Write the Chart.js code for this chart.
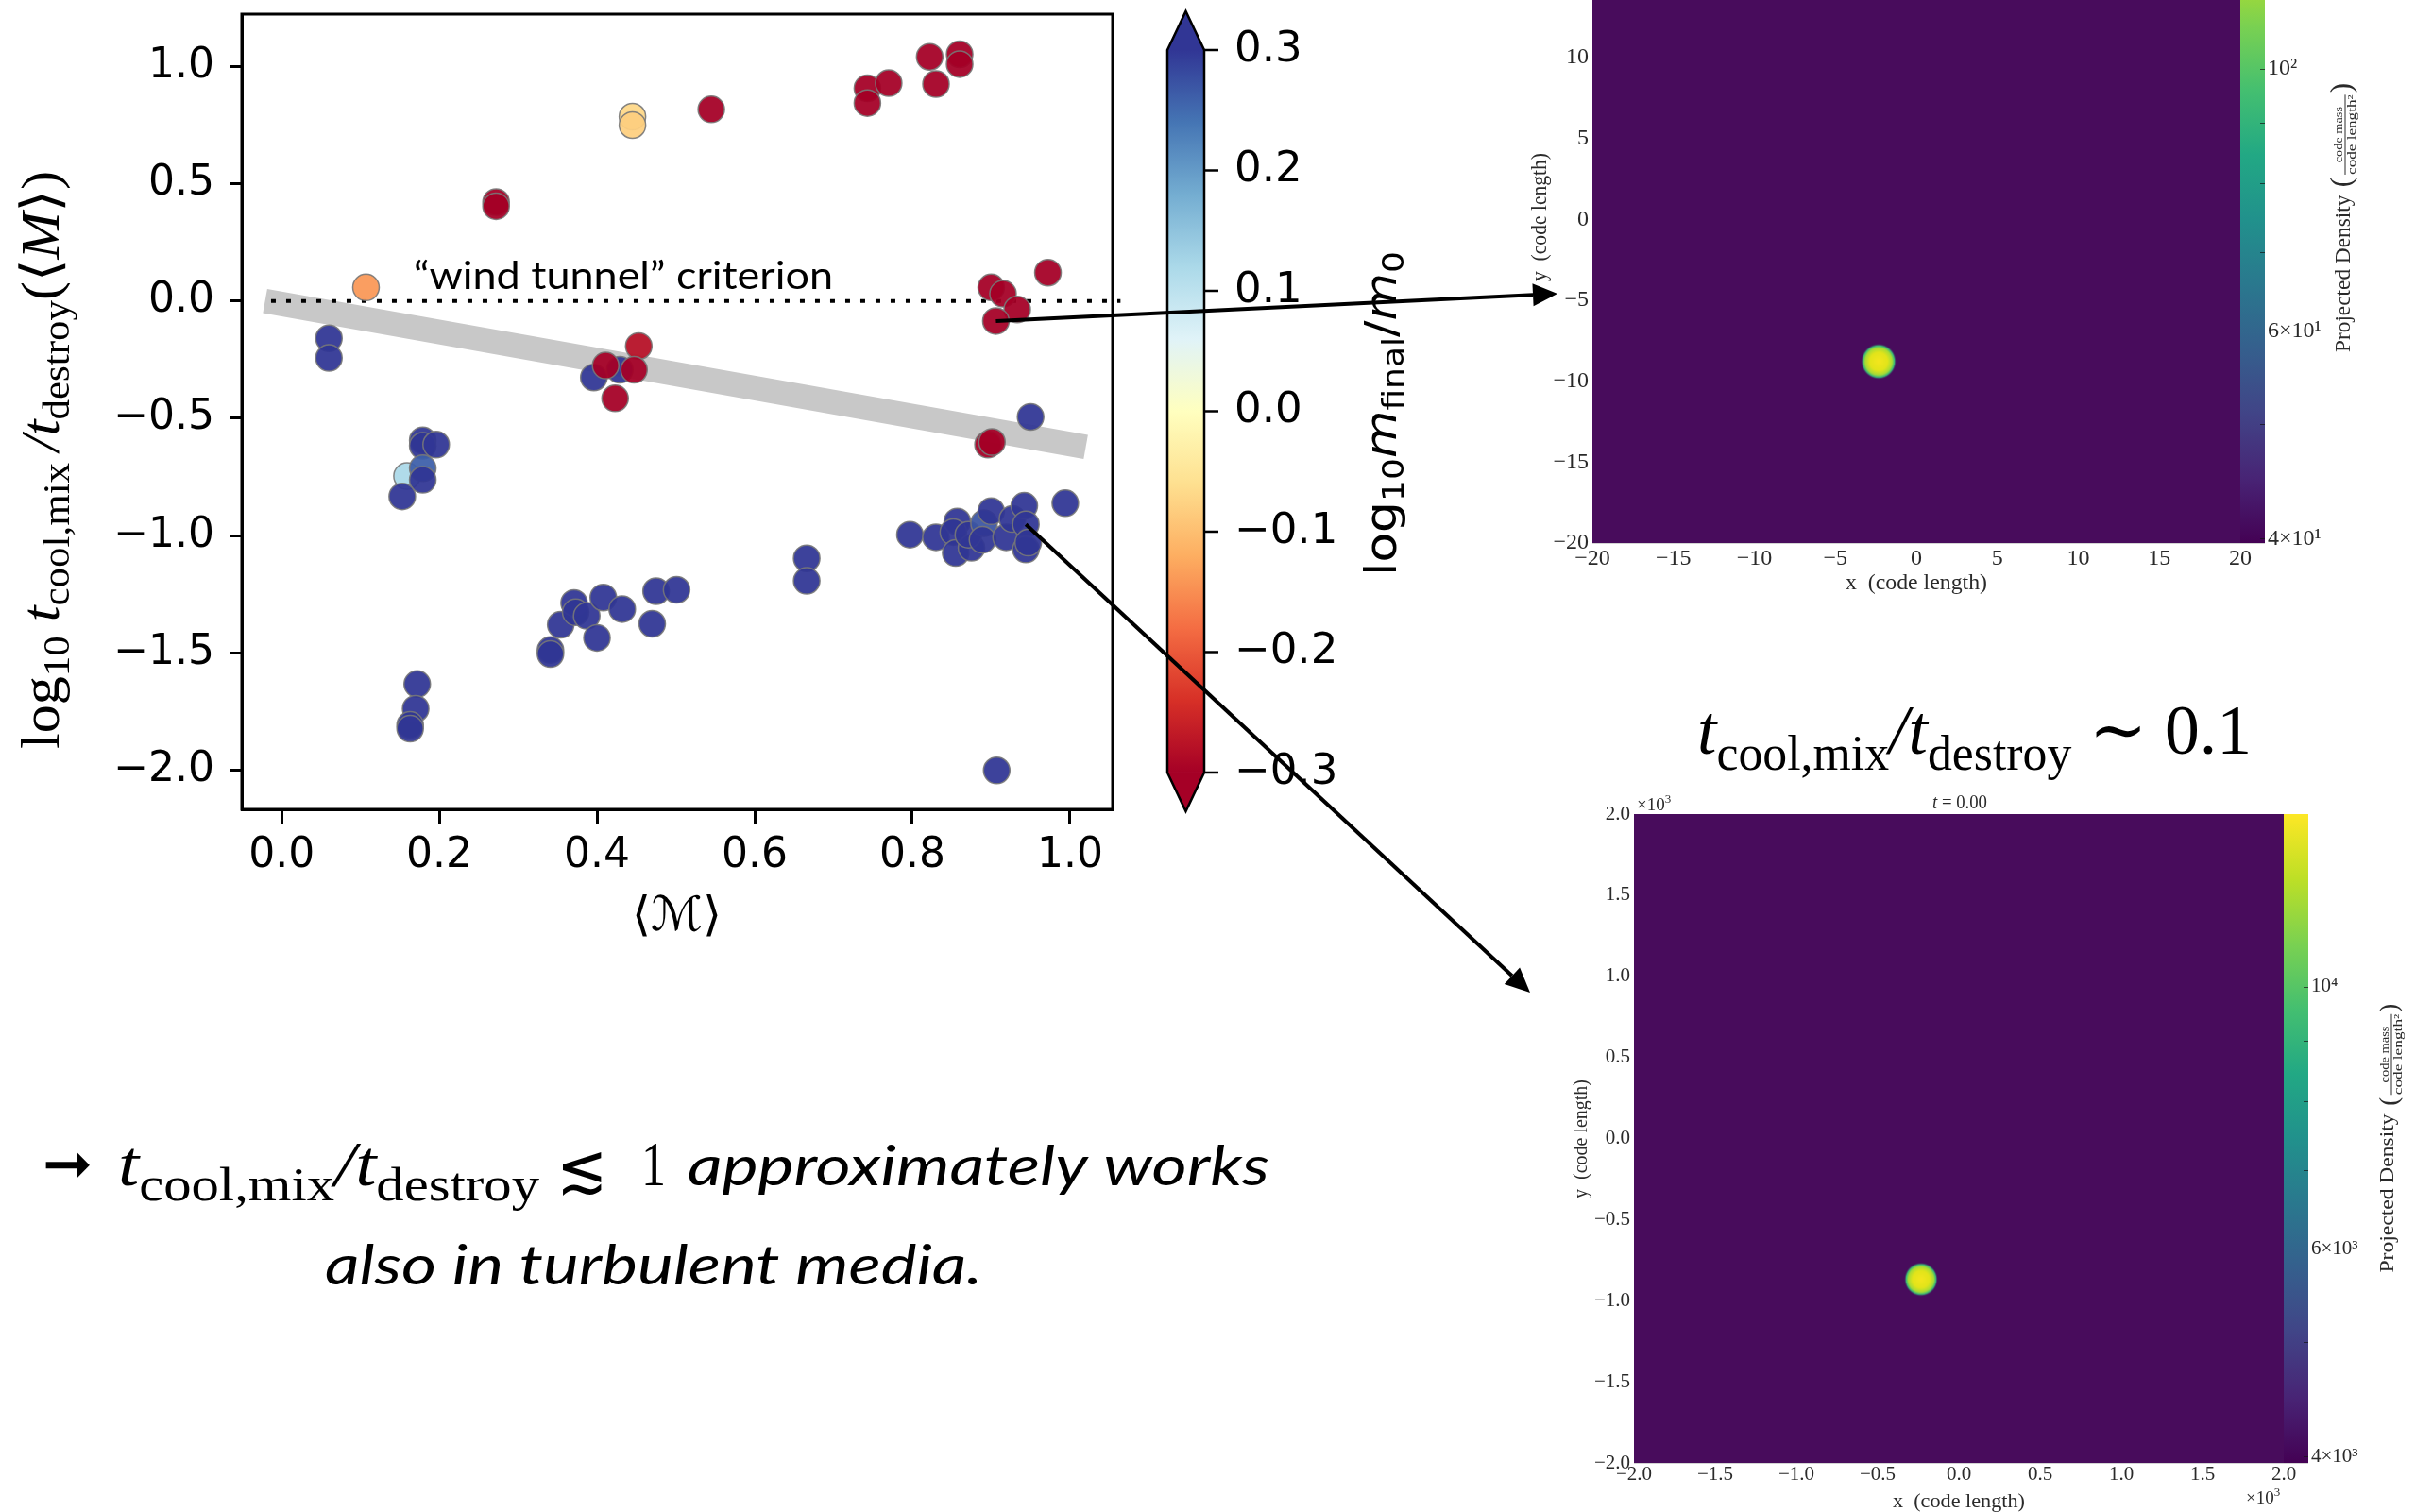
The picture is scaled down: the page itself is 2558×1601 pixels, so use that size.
<!DOCTYPE html>
<html>
<head>
<meta charset="utf-8">
<title>wind tunnel criterion</title>
<script src="https://cdn.jsdelivr.net/npm/chart.js@4.4.1/dist/chart.umd.min.js"></script>
<style>
  html, body { margin: 0; padding: 0; background: #fff; overflow: hidden; }
  #page { position: relative; width: 2558px; height: 1601px; }
  #page canvas { position: absolute; }
</style>
</head>
<body>
<div id="page">
  <canvas id="topImg" width="998" height="660" style="left:1560px;top:0px"></canvas>
  <canvas id="botImg" width="958" height="781" style="left:1600px;top:820px"></canvas>
  <canvas id="main" width="2558" height="1601" style="left:0px;top:0px;z-index:2"></canvas>
</div>
<script>
// scatter: <M>, log10 tcool,mix/tdestroy, colour = log10 mfinal/m0
const mach = [
  0.429, 0.396, 0.060, 0.060, 0.179, 0.179, 0.196, 0.159, 0.179, 0.179, 0.153, 0.950,
  0.994, 0.797, 0.830, 0.857, 0.852, 0.855, 0.875, 0.871, 0.891, 0.889, 0.900, 0.919,
  0.927, 0.942, 0.944, 0.944, 0.947, 0.907, 0.666, 0.666, 0.341, 0.341, 0.354, 0.371,
  0.373, 0.387, 0.408, 0.400, 0.432, 0.470, 0.475, 0.501, 0.172, 0.170, 0.163, 0.163,
  0.107, 0.445, 0.445, 0.272, 0.272, 0.545, 0.743, 0.743, 0.770, 0.822, 0.830, 0.860,
  0.860, 0.900, 0.915, 0.933, 0.906, 0.972, 0.896, 0.901, 0.453, 0.411, 0.447, 0.423
];
const logRatio = [
  -0.293, -0.326, -0.159, -0.243, -0.594, -0.617, -0.612, -0.746, -0.713, -0.762, -0.833, -0.494,
  -0.862, -0.996, -1.007, -0.940, -0.985, -1.074, -1.052, -0.996, -0.947, -1.018, -0.896, -1.007,
  -0.929, -0.873, -0.952, -1.059, -1.030, -2.001, -1.097, -1.193, -1.488, -1.505, -1.380, -1.287,
  -1.327, -1.342, -1.264, -1.436, -1.313, -1.376, -1.237, -1.231, -1.633, -1.738, -1.807, -1.823,
  0.058, 0.786, 0.750, 0.422, 0.404, 0.817, 0.907, 0.844, 0.929, 1.041, 0.925, 1.052,
  1.010, 0.058, 0.031, -0.036, -0.085, 0.121, -0.612, -0.601, -0.192, -0.275, -0.293, -0.415
];
const logMass = [
  0.35, 0.35, 0.35, 0.35, 0.35, 0.35, 0.35, 0.12, 0.26, 0.35, 0.35, 0.35,
  0.35, 0.35, 0.35, 0.35, 0.35, 0.35, 0.35, 0.35, 0.27, 0.35, 0.35, 0.35,
  0.35, 0.35, 0.35, 0.35, 0.35, 0.35, 0.35, 0.35, 0.35, 0.35, 0.35, 0.35,
  0.35, 0.35, 0.35, 0.35, 0.35, 0.35, 0.35, 0.35, 0.35, 0.35, 0.35, 0.35,
  -0.14, -0.07, -0.08, -0.35, -0.35, -0.35, -0.35, -0.35, -0.35, -0.35, -0.35, -0.35,
  -0.35, -0.35, -0.35, -0.35, -0.35, -0.35, -0.35, -0.35, -0.28, -0.35, -0.35, -0.35
];

// guide lines
const bandX = [-0.021, 1.020];
const bandY = [0.000, -0.622];
const critX = [-0.0134, 1.064];
const critY = [0.0, 0.0];

// arrows start at these runs
const arrowFromX = [0.906, 0.944];
const arrowFromY = [-0.085, -0.952];

// ticks
const xTicks = [0, 0.2, 0.4, 0.6, 0.8, 1.0];
const yTicks = [-2.0, -1.5, -1.0, -0.5, 0.0, 0.5, 1.0];
const cbTicks = [-0.3, -0.2, -0.1, 0.0, 0.1, 0.2, 0.3];

// projection snapshots: clump position
const topBlobX = [-2.33];
const topBlobY = [-8.78];
const botBlobX = [-0.233];
const botBlobY = [-0.868];
const topTicks = [-20, -15, -10, -5, 0, 5, 10, 15, 20];
const botTicks = [-2.0, -1.5, -1.0, -0.5, 0.0, 0.5, 1.0, 1.5, 2.0];
const topCbTicks = [40, 50, 60, 70, 80, 90, 100];
const topCbLabels = { 40: '4\u00d710\u00b9', 60: '6\u00d710\u00b9', 100: '10\u00b2' };
const botCbTicks = [4000, 5000, 6000, 7000, 8000, 9000, 10000];
const botCbLabels = { 4000: '4\u00d710\u00b3', 6000: '6\u00d710\u00b3', 10000: '10\u2074' };

const RDYLBU = ['#a50026', '#d73027', '#f46d43', '#fdae61', '#fee090', '#ffffbf',
  '#e0f3f8', '#abd9e9', '#74add1', '#4575b4', '#313695'];
const VIRIDIS = ['#440154', '#482475', '#414487', '#355f8d', '#2a788e', '#21918c',
  '#22a884', '#44bf70', '#7ad151', '#bddf26', '#fde725'];

function hex(c) {
  return [parseInt(c.slice(1, 3), 16), parseInt(c.slice(3, 5), 16), parseInt(c.slice(5, 7), 16)];
}

function rdylbu(v, alpha) {
  let t = (v + 0.3) / 0.6;
  t = Math.max(0, Math.min(1, t)) * (RDYLBU.length - 1);
  const i = Math.min(Math.floor(t), RDYLBU.length - 2), f = t - i;
  const a = hex(RDYLBU[i]), b = hex(RDYLBU[i + 1]);
  const c = a.map((x, k) => Math.round(x + (b[k] - x) * f));
  return 'rgba(' + c.join(',') + ',' + alpha + ')';
}

function minus(v, d) {
  if (Math.abs(v) < 1e-9) v = 0;
  return (v < 0 ? '\u2212' : '') + Math.abs(v).toFixed(d);
}

// keep tick label overflow from pushing the plot area around
function noPad(s) {
  s.paddingTop = 0; s.paddingBottom = 0; s.paddingLeft = 0; s.paddingRight = 0;
}

// draws runs of text one after the other, squeezed to a width if given
function drawRuns(ctx, runs, x, y, targetW) {
  let w = 0;
  runs.forEach(r => { ctx.font = r.f; r.w = ctx.measureText(r.t).width; w += r.w; });
  const k = targetW ? targetW / w : 1;
  ctx.save();
  ctx.translate(x, y);
  ctx.scale(k, 1);
  ctx.textAlign = 'left';
  ctx.textBaseline = 'alphabetic';
  let cx = 0;
  runs.forEach(r => { ctx.font = r.f; ctx.fillText(r.t, cx, r.dy || 0); cx += r.w; });
  ctx.restore();
}

function drawRotated(ctx, runs, cx, cy, targetW) {
  ctx.save();
  ctx.translate(cx, cy);
  ctx.rotate(-Math.PI / 2);
  drawRuns(ctx, runs, -targetW / 2, 0, targetW);
  ctx.restore();
}

function arrow(ctx, x0, y0, x1, y1) {
  const a = Math.atan2(y1 - y0, x1 - x0), L = 26, W = 12;
  const bx = x1 - L * Math.cos(a), by = y1 - L * Math.sin(a);
  ctx.strokeStyle = '#000';
  ctx.lineWidth = 4;
  ctx.beginPath(); ctx.moveTo(x0, y0); ctx.lineTo(bx, by); ctx.stroke();
  ctx.fillStyle = '#000';
  ctx.beginPath();
  ctx.moveTo(x1, y1);
  ctx.lineTo(bx + W * Math.sin(a), by - W * Math.cos(a));
  ctx.lineTo(bx - W * Math.sin(a), by + W * Math.cos(a));
  ctx.closePath();
  ctx.fill();
}

function makeBlob(size) {
  const c = document.createElement('canvas');
  c.width = c.height = size;
  const g = c.getContext('2d');
  const r = size / 2;
  const grad = g.createRadialGradient(r, r, 0, r, r, r);
  grad.addColorStop(0, '#f4e61e');
  grad.addColorStop(0.5, '#e2e41a');
  grad.addColorStop(0.75, '#a6db36');
  grad.addColorStop(0.88, '#35b779');
  grad.addColorStop(1, 'rgba(72,12,92,0)');
  g.fillStyle = grad;
  g.beginPath(); g.arc(r, r, r, 0, Math.PI * 2); g.fill();
  return c;
}

Chart.defaults.font.family = '"DejaVu Sans", sans-serif';
Chart.defaults.color = '#000';

const SERIF = '"Liberation Serif", "DejaVu Serif", serif';
const PURPLE = '#480c5c';

// ---- simulation snapshots ----
function imageDecor(cfg) {
  return {
    id: 'imageDecor',
    beforeDatasetsDraw(chart) {
      const ctx = chart.ctx, ca = chart.chartArea, cb = chart.scales.cb;
      ctx.save();
      ctx.fillStyle = PURPLE;
      ctx.fillRect(ca.left, ca.top, ca.right - ca.left, ca.bottom - ca.top);
      const y0 = cb.getPixelForValue(cfg.cbLow), y1 = cb.getPixelForValue(cfg.cbHigh);
      const grad = ctx.createLinearGradient(0, y0, 0, y1);
      VIRIDIS.forEach((c, i) => grad.addColorStop(i / (VIRIDIS.length - 1), c));
      ctx.fillStyle = grad;
      ctx.fillRect(ca.right, ca.top, cfg.barW, ca.bottom - ca.top);
      ctx.strokeStyle = 'rgba(20,20,20,0.7)';
      ctx.lineWidth = 1;
      cb.ticks.forEach(t => {
        const y = Math.round(cb.getPixelForValue(t.value)) + 0.5;
        ctx.beginPath();
        ctx.moveTo(ca.right + cfg.barW - 5, y);
        ctx.lineTo(ca.right + cfg.barW, y);
        ctx.stroke();
      });
      ctx.strokeStyle = 'rgba(200,200,200,0.8)';
      ctx.beginPath();
      ctx.moveTo(ca.left, ca.bottom + 0.5);
      ctx.lineTo(ca.right + cfg.barW, ca.bottom + 0.5);
      ctx.stroke();
      ctx.restore();
    },
    afterDraw(chart) {
      const ctx = chart.ctx, ca = chart.chartArea;
      const fs = cfg.fontSize;
      ctx.save();
      ctx.fillStyle = '#2a2a2a';
      drawRuns(ctx, [{ t: 'x  (code length)', f: fs + 'px ' + SERIF }],
        (ca.left + ca.right) / 2 - cfg.xTitleW / 2, cfg.xTitleY, cfg.xTitleW);
      drawRotated(ctx, [{ t: 'y  (code length)', f: fs + 'px ' + SERIF }],
        cfg.yTitleX, cfg.yTitleCy, cfg.yTitleW);
      // colorbar label with its unit fraction
      ctx.save();
      ctx.translate(cfg.cbTitleX, cfg.cbTitleCy);
      ctx.rotate(-Math.PI / 2);
      const L = cfg.cbTitleLen;
      drawRuns(ctx, [{ t: 'Projected Density', f: fs + 'px ' + SERIF }], -L / 2, 0, L * 0.59);
      const px = -L / 2 + L * 0.62;
      ctx.font = Math.round(fs * 1.3) + 'px ' + SERIF;
      ctx.textAlign = 'left';
      ctx.fillText('(', px, cfg.fracDy + 6);
      const fx = px + fs * 0.55, fw = L * 0.3;
      drawRuns(ctx, [{ t: 'code mass', f: Math.round(fs * 0.55) + 'px ' + SERIF }], fx + fw * 0.15, cfg.fracDy - 3, fw * 0.7);
      drawRuns(ctx, [{ t: 'code length\u00b2', f: Math.round(fs * 0.55) + 'px ' + SERIF }], fx, cfg.fracDy + 11, fw);
      ctx.strokeStyle = '#2a2a2a';
      ctx.lineWidth = 1;
      ctx.beginPath(); ctx.moveTo(fx, cfg.fracDy); ctx.lineTo(fx + fw, cfg.fracDy); ctx.stroke();
      ctx.font = Math.round(fs * 1.3) + 'px ' + SERIF;
      ctx.fillText(')', fx + fw + 2, cfg.fracDy + 6);
      ctx.restore();
      if (cfg.extra) cfg.extra(ctx, chart);
      ctx.restore();
    }
  };
}

function makeImageChart(id, cfg) {
  const tickFont = { family: SERIF, size: cfg.fontSize };
  return new Chart(document.getElementById(id), {
    type: 'scatter',
    data: {
      datasets: [{
        data: cfg.blobX.map((x, i) => ({ x: x, y: cfg.blobY[i] })),
        pointStyle: makeBlob(cfg.blobSize),
        pointRadius: cfg.blobSize / 2
      }]
    },
    options: {
      responsive: false,
      animation: false,
      events: [],
      layout: { padding: cfg.padding, autoPadding: false },
      plugins: { legend: { display: false }, tooltip: { enabled: false } },
      scales: {
        x: {
          type: 'linear', min: cfg.xMin, max: cfg.xMax,
          afterBuildTicks: s => { s.ticks = cfg.ticks.map(v => ({ value: v })); },
          ticks: { font: tickFont, color: '#2a2a2a', padding: cfg.xPad, maxRotation: 0, autoSkip: false,
            callback: v => minus(v, cfg.decimals) },
          grid: { display: false, drawTicks: false }, border: { display: false },
          afterFit: s => { s.height = cfg.xH; noPad(s); }
        },
        y: {
          type: 'linear', min: cfg.yMin, max: cfg.yMax,
          afterBuildTicks: s => { s.ticks = cfg.ticks.filter(v => v <= cfg.yMax).map(v => ({ value: v })); },
          ticks: { font: tickFont, color: '#2a2a2a', padding: 4, autoSkip: false,
            callback: v => minus(v, cfg.decimals) },
          grid: { display: false, drawTicks: false }, border: { display: false },
          afterFit: s => { s.width = cfg.yW; noPad(s); }
        },
        cb: {
          type: 'logarithmic', position: 'right', min: cfg.cbMin, max: cfg.cbMax,
          afterBuildTicks: s => { s.ticks = cfg.cbTicks.map(v => ({ value: v })); },
          ticks: { font: tickFont, color: '#2a2a2a', padding: cfg.barW + 3, autoSkip: false,
            callback: v => cfg.cbLabels[v] || '' },
          grid: { display: false, drawTicks: false }, border: { display: false },
          afterFit: s => { s.width = cfg.cbW; noPad(s); }
        }
      }
    },
    plugins: [imageDecor(cfg)]
  });
}

const topChart = makeImageChart('topImg', {
  blobX: topBlobX, blobY: topBlobY, blobSize: 38,
  xMin: -20, xMax: 20, yMin: -20, yMax: 13.55, ticks: topTicks, decimals: 0,
  cbMin: 39.65, cbMax: 114.4, cbLow: 39.65, cbHigh: 140, cbTicks: topCbTicks, cbLabels: topCbLabels,
  padding: { top: 0, left: 0, right: 0, bottom: 0 },
  xH: 85, yW: 126, cbW: 186, barW: 26, fontSize: 24, xPad: 2,
  xTitleY: 624, xTitleW: 150, yTitleX: 77, yTitleCy: 230, yTitleW: 136,
  cbTitleX: 928, cbTitleCy: 232, cbTitleLen: 282, fracDy: -5
});

const botChart = makeImageChart('botImg', {
  blobX: botBlobX, blobY: botBlobY, blobSize: 36,
  xMin: -2, xMax: 2, yMin: -2, yMax: 2, ticks: botTicks, decimals: 1,
  cbMin: 3950, cbMax: 14010, cbLow: 3950, cbHigh: 14010, cbTicks: botCbTicks, cbLabels: botCbLabels,
  padding: { top: 42, left: 0, right: 0, bottom: 0 },
  xH: 52, yW: 130, cbW: 140, barW: 26, fontSize: 21, xPad: 0,
  xTitleY: 776, xTitleW: 140, yTitleX: 80, yTitleCy: 386, yTitleW: 126,
  cbTitleX: 934, cbTitleCy: 385, cbTitleLen: 285, fracDy: -2,
  extra: (ctx, chart) => {
    const ca = chart.chartArea;
    ctx.fillStyle = '#2a2a2a';
    drawRuns(ctx, [{ t: 't', f: 'italic 21px ' + SERIF }, { t: ' = 0.00', f: '21px ' + SERIF }],
      (ca.left + ca.right) / 2 - 28, 36, 58);
    drawRuns(ctx, [{ t: '\u00d710', f: '19px ' + SERIF }, { t: '3', f: '13px ' + SERIF, dy: -8 }], ca.left + 3, 38);
    drawRuns(ctx, [{ t: '\u00d710', f: '19px ' + SERIF }, { t: '3', f: '13px ' + SERIF, dy: -8 }], ca.right - 40, 772);
  }
});

// ---- main scatter ----
const mainDecor = {
  id: 'mainDecor',
  afterDraw(chart) {
    const ctx = chart.ctx, ca = chart.chartArea;
    const xs = chart.scales.x, ys = chart.scales.y, cb = chart.scales.cb;
    ctx.save();
    ctx.strokeStyle = '#000';
    ctx.lineWidth = 3;
    ctx.strokeRect(ca.left, ca.top, ca.right - ca.left, ca.bottom - ca.top);

    // colorbar with extension triangles
    const bx0 = 1236, bx1 = 1275, bxc = (bx0 + bx1) / 2, tri = 41;
    const yTop = cb.getPixelForValue(0.3), yBot = cb.getPixelForValue(-0.3);
    const grad = ctx.createLinearGradient(0, yBot, 0, yTop);
    RDYLBU.forEach((c, i) => grad.addColorStop(i / (RDYLBU.length - 1), c));
    ctx.fillStyle = grad;
    ctx.fillRect(bx0, yTop, bx1 - bx0, yBot - yTop);
    ctx.fillStyle = RDYLBU[RDYLBU.length - 1];
    ctx.beginPath(); ctx.moveTo(bx0, yTop); ctx.lineTo(bxc, yTop - tri); ctx.lineTo(bx1, yTop); ctx.closePath(); ctx.fill();
    ctx.fillStyle = RDYLBU[0];
    ctx.beginPath(); ctx.moveTo(bx0, yBot); ctx.lineTo(bxc, yBot + tri); ctx.lineTo(bx1, yBot); ctx.closePath(); ctx.fill();
    ctx.lineWidth = 2.5;
    ctx.beginPath();
    ctx.moveTo(bx0, yTop); ctx.lineTo(bxc, yTop - tri); ctx.lineTo(bx1, yTop);
    ctx.lineTo(bx1, yBot); ctx.lineTo(bxc, yBot + tri); ctx.lineTo(bx0, yBot);
    ctx.closePath(); ctx.stroke();
    cb.ticks.forEach(t => {
      const y = cb.getPixelForValue(t.value);
      ctx.beginPath(); ctx.moveTo(bx1, y); ctx.lineTo(bx1 + 15, y); ctx.stroke();
    });

    ctx.fillStyle = '#000';
    // colorbar label
    drawRotated(ctx, [
      { t: 'log', f: '46px "DejaVu Sans"' },
      { t: '10', f: '32px "DejaVu Sans"', dy: 8 },
      { t: 'm', f: 'oblique 46px "DejaVu Sans"' },
      { t: 'final', f: '32px "DejaVu Sans"', dy: 8 },
      { t: '/', f: '46px "DejaVu Sans"' },
      { t: 'm', f: 'oblique 46px "DejaVu Sans"' },
      { t: '0', f: '32px "DejaVu Sans"', dy: 8 }
    ], 1478, 438, 344);

    // axis titles
    drawRotated(ctx, [
      { t: 'log', f: '56px ' + SERIF },
      { t: '10', f: '40px ' + SERIF, dy: 11 },
      { t: ' ', f: '56px ' + SERIF },
      { t: 't', f: 'italic 56px ' + SERIF },
      { t: 'cool,mix', f: '40px ' + SERIF, dy: 11 },
      { t: '\u2009/', f: 'italic 56px ' + SERIF },
      { t: 't', f: 'italic 56px ' + SERIF },
      { t: 'destroy', f: '40px ' + SERIF, dy: 11 },
      { t: '(\u27e8', f: '56px ' + SERIF },
      { t: 'M', f: 'italic 56px ' + SERIF },
      { t: '\u27e9)', f: '56px ' + SERIF }
    ], 62, 487, 612);
    drawRuns(ctx, [{ t: '\u27e8\u2133\u27e9', f: '50px "DejaVu Serif", "DejaVu Sans"' }], 669, 985, 95);

    // criterion label
    drawRuns(ctx, [{ t: '\u201cwind tunnel\u201d criterion', f: '40px Lato, "Open Sans"' }], 438, 306, 444);

    // right title
    drawRuns(ctx, [
      { t: 't', f: 'italic 74px ' + SERIF },
      { t: 'cool,mix', f: '52px ' + SERIF, dy: 17 },
      { t: '/', f: 'italic 74px ' + SERIF },
      { t: 't', f: 'italic 74px ' + SERIF },
      { t: 'destroy', f: '52px ' + SERIF, dy: 17 },
      { t: ' \u223c 0.1', f: '74px ' + SERIF }
    ], 1797, 798, 587);

    // conclusion text
    drawRuns(ctx, [{ t: '\u279e', f: 'bold 64px "DejaVu Sans"' }], 45, 1254, 53);
    drawRuns(ctx, [
      { t: 't', f: 'italic 68px ' + SERIF },
      { t: 'cool,mix', f: '50px ' + SERIF, dy: 16 },
      { t: '/', f: 'italic 68px ' + SERIF },
      { t: 't', f: 'italic 68px ' + SERIF },
      { t: 'destroy', f: '50px ' + SERIF, dy: 16 }
    ], 125, 1255, 446);
    drawRuns(ctx, [{ t: '\u2272', f: '72px "DejaVu Sans"' }], 589, 1262, 54);
    drawRuns(ctx, [{ t: '1', f: '68px ' + SERIF }], 679, 1255, 26);
    drawRuns(ctx, [{ t: 'approximately works', f: 'italic 58px Lato' }], 728, 1255, 616);
    drawRuns(ctx, [{ t: 'also in turbulent media.', f: 'italic 58px Lato' }], 344, 1360, 696);

    // arrows from two runs to their snapshots
    const tc = topChart, bc = botChart;
    arrow(ctx, xs.getPixelForValue(arrowFromX[0]), ys.getPixelForValue(arrowFromY[0]),
      tc.canvas.offsetLeft + tc.chartArea.left - 37, tc.canvas.offsetTop + tc.scales.y.getPixelForValue(-4.6));
    arrow(ctx, xs.getPixelForValue(arrowFromX[1]), ys.getPixelForValue(arrowFromY[1]),
      bc.canvas.offsetLeft + bc.chartArea.left - 110, bc.canvas.offsetTop + bc.scales.y.getPixelForValue(0.9));
    ctx.restore();
  }
};

const points = mach.map((x, i) => ({ x: x, y: logRatio[i] }));
const colors = logMass.map(v => rdylbu(v, 0.94));

new Chart(document.getElementById('main'), {
  type: 'scatter',
  data: {
    datasets: [
      {
        data: bandX.map((x, i) => ({ x: x, y: bandY[i] })),
        showLine: true, borderColor: '#c8c8c8', borderWidth: 26, borderCapStyle: 'butt',
        pointRadius: 0, order: 3, clip: false
      },
      {
        data: critX.map((x, i) => ({ x: x, y: critY[i] })),
        showLine: true, borderColor: '#000', borderWidth: 4, borderDash: [5, 11],
        pointRadius: 0, order: 2, clip: false
      },
      {
        data: points,
        pointBackgroundColor: colors,
        pointBorderColor: 'rgba(120,120,120,0.9)',
        pointBorderWidth: 1.5,
        pointRadius: 14,
        order: 1
      }
    ]
  },
  options: {
    responsive: false,
    animation: false,
    events: [],
    layout: { padding: { top: 15, left: 0, right: 1130, bottom: 644 }, autoPadding: false },
    plugins: { legend: { display: false }, tooltip: { enabled: false } },
    scales: {
      x: {
        type: 'linear', min: -0.0505, max: 1.054,
        afterBuildTicks: s => { s.ticks = xTicks.map(v => ({ value: v })); },
        ticks: { font: { size: 44 }, padding: 8, maxRotation: 0, autoSkip: false,
          callback: v => minus(v, 1) },
        grid: { drawOnChartArea: false, tickLength: 15, tickWidth: 3, color: '#000' },
        border: { color: '#000', width: 3 },
        afterFit: s => { s.height = 100; noPad(s); }
      },
      y: {
        type: 'linear', min: -2.167, max: 1.223,
        afterBuildTicks: s => { s.ticks = yTicks.map(v => ({ value: v })); },
        ticks: { font: { size: 44 }, padding: 16, autoSkip: false,
          callback: v => minus(v, 1) },
        grid: { drawOnChartArea: false, tickLength: 13, tickWidth: 3, color: '#000' },
        border: { color: '#000', width: 3 },
        afterFit: s => { s.width = 256; noPad(s); }
      },
      cb: {
        type: 'linear', position: 'right', min: -0.3306, max: 0.3298,
        afterBuildTicks: s => { s.ticks = cbTicks.map(v => ({ value: v })); },
        ticks: { font: { size: 45 }, padding: 129, autoSkip: false,
          callback: v => minus(v, 1) },
        grid: { display: false, drawTicks: false }, border: { display: false },
        afterFit: s => { s.width = 250; noPad(s); }
      }
    }
  },
  plugins: [mainDecor]
});
</script>
</body>
</html>
